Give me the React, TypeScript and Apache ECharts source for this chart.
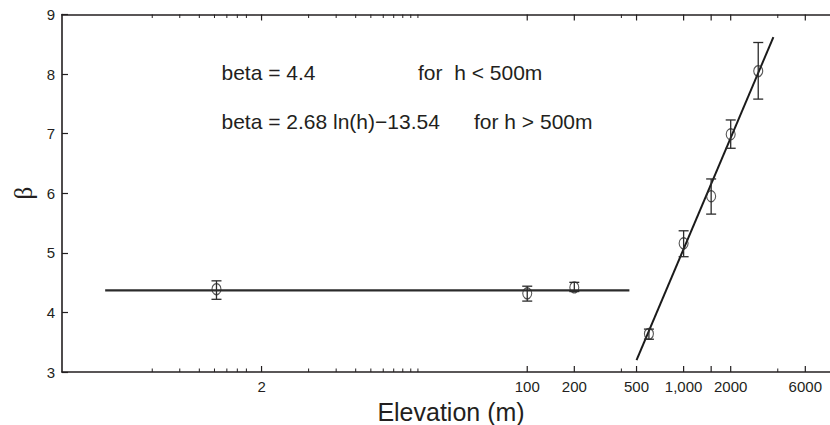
import React, { useEffect, useRef } from "react";
import * as echarts from "echarts";

// Measured data (elevation in m, beta with error bar limits)
const elevation = [1.03, 100, 200, 600, 1000, 1500, 2000, 3000];
const beta = [4.39, 4.32, 4.42, 3.64, 5.16, 5.95, 6.99, 8.05];
const betaLow = [4.22, 4.19, 4.35, 3.55, 4.935, 5.65, 6.755, 7.58];
const betaHigh = [4.53, 4.44, 4.505, 3.72, 5.37, 6.24, 7.23, 8.53];

// Fitted lines
const flatFitX = [0.2, 450];
const flatFitY = [4.37, 4.37];
const logFitX = [500, 3750];
const logFitY = [3.2, 8.62];

// Axis ticks
const majorTickValues = [2, 100, 200, 500, 1000, 1500, 2000, 6000];
const minorTickValues = [0.4, 0.6, 0.8, 1, 1.2, 1.4, 1.6, 4, 6, 8, 10, 12, 14, 16, 18, 20, 400, 4000];
const xLabelValues = [2, 100, 200, 500, 1000, 2000, 6000];
const xLabelTexts = ["2", "100", "200", "500", "1,000", "2000", "6000"];

const annotations = [
  "beta = 4.4",
  "for  h < 500m",
  "beta = 2.68 ln(h)\u221213.54",
  "for h > 500m",
];

const INK = "#231f20";
const FONT = "'Liberation Sans', Arial, Helvetica, sans-serif";
const lg = (v: number) => Math.log10(v);

export default function App() {
  const ref = useRef<HTMLDivElement>(null);
  useEffect(() => {
    if (!ref.current) return;
    const chart = echarts.init(ref.current, null, { renderer: "svg" });
    const xMin = -0.975;
    const xMax = 4;
    const labelFmt = (v: number) => {
      for (let i = 0; i < xLabelValues.length; i++) {
        if (Math.abs(lg(xLabelValues[i]) - v) < 1e-6) return xLabelTexts[i];
      }
      return "";
    };
    const tickData = [
      ...majorTickValues.map((v) => [lg(v), 6]),
      ...minorTickValues.map((v) => [lg(v), 3.5]),
    ];
    const option: any = {
      animation: false,
      backgroundColor: "#ffffff",
      grid: {
        left: 62,
        top: 14.5,
        width: 778,
        height: 357.5,
        containLabel: false,
        outerBoundsMode: "none",
      },
      xAxis: [
        {
          type: "value",
          min: xMin,
          max: xMax,
          position: "bottom",
          splitLine: { show: false },
          name: "Elevation (m)",
          nameLocation: "middle",
          nameGap: 23,
          nameTextStyle: { fontSize: 25, lineHeight: 26, color: INK, fontFamily: FONT },
          axisLine: { show: true, onZero: false, lineStyle: { color: INK, width: 1.6 } },
          axisTick: { show: false },
          axisLabel: {
            show: true,
            customValues: xLabelValues.map(lg),
            formatter: labelFmt,
            fontSize: 15,
            color: INK,
            fontFamily: FONT,
            margin: 7,
          },
        },
        {
          type: "value",
          min: xMin,
          max: xMax,
          position: "top",
          splitLine: { show: false },
          axisLine: { show: true, onZero: false, lineStyle: { color: INK, width: 1.6 } },
          axisTick: { show: false },
          axisLabel: { show: false },
        },
      ],
      yAxis: {
        type: "value",
        min: 3,
        max: 9,
        interval: 1,
        name: "\u03b2",
        nameLocation: "middle",
        nameRotate: 90,
        nameGap: 26,
        nameTextStyle: { fontSize: 25, color: INK, fontFamily: "'Liberation Serif', 'DejaVu Serif', serif" },
        splitLine: { show: false },
        axisLine: { show: true, onZero: false, lineStyle: { color: INK, width: 1.6 } },
        axisTick: { show: true, inside: true, length: 6, lineStyle: { color: INK, width: 1.2 } },
        axisLabel: { fontSize: 15, color: INK, fontFamily: FONT, margin: 7 },
      },
      graphic: [
        { type: "text", left: 221.5, top: 62, style: { text: annotations[0], font: `21px ${FONT}`, fill: INK } },
        { type: "text", left: 418, top: 62, style: { text: annotations[1], font: `21px ${FONT}`, fill: INK } },
        { type: "text", left: 221.5, top: 110.5, style: { text: annotations[2], font: `21px ${FONT}`, fill: INK } },
        { type: "text", left: 474, top: 110.5, style: { text: annotations[3], font: `21px ${FONT}`, fill: INK } },
      ],
      series: [
        {
          // x-axis ticks (bottom and mirrored on top frame)
          type: "custom",
          xAxisIndex: 0,
          data: tickData,
          clip: false,
          silent: true,
          renderItem: (params: any, api: any) => {
            const cs = params.coordSys;
            const px = api.coord([api.value(0), 3])[0];
            const len = api.value(1);
            const bottom = cs.y + cs.height;
            const top = cs.y;
            const style = { stroke: INK, lineWidth: len > 5 ? 1.2 : 1 };
            return {
              type: "group",
              children: [
                { type: "line", shape: { x1: px, y1: bottom, x2: px, y2: bottom - len }, style },
                { type: "line", shape: { x1: px, y1: top, x2: px, y2: top + len }, style },
              ],
            };
          },
          z: 1,
        },
        {
          type: "line",
          xAxisIndex: 0,
          data: flatFitX.map((x, i) => [lg(x), flatFitY[i]]),
          showSymbol: false,
          lineStyle: { color: "#2b2b2b", width: 2.2 },
          z: 2,
        },
        {
          type: "line",
          xAxisIndex: 0,
          data: logFitX.map((x, i) => [lg(x), logFitY[i]]),
          showSymbol: false,
          lineStyle: { color: "#1a1a1a", width: 2 },
          z: 2,
        },
        {
          type: "custom",
          xAxisIndex: 0,
          data: elevation.map((x, i) => [lg(x), betaLow[i], betaHigh[i]]),
          renderItem: (params: any, api: any) => {
            const x = api.value(0);
            const lo = api.coord([x, api.value(1)]);
            const hi = api.coord([x, api.value(2)]);
            const hw = 5;
            const style = { stroke: "#2b2b2b", lineWidth: 1.3 };
            return {
              type: "group",
              children: [
                { type: "line", shape: { x1: lo[0], y1: lo[1], x2: hi[0], y2: hi[1] }, style },
                { type: "line", shape: { x1: lo[0] - hw, y1: lo[1], x2: lo[0] + hw, y2: lo[1] }, style },
                { type: "line", shape: { x1: hi[0] - hw, y1: hi[1], x2: hi[0] + hw, y2: hi[1] }, style },
              ],
            };
          },
          z: 3,
        },
        {
          type: "scatter",
          xAxisIndex: 0,
          data: elevation.map((x, i) => [lg(x), beta[i]]),
          symbol: "circle",
          symbolSize: [9, 11],
          itemStyle: { color: "rgba(255,255,255,0)", borderColor: "#2b2b2b", borderWidth: 1.2 },
          z: 4,
        },
      ],
    };
    chart.setOption(option);
    return () => chart.dispose();
  }, []);
  return (
    <div
      ref={ref}
      style={{ position: "fixed", left: 0, top: 0, width: 830, height: 425, background: "#fff" }}
    />
  );
}
